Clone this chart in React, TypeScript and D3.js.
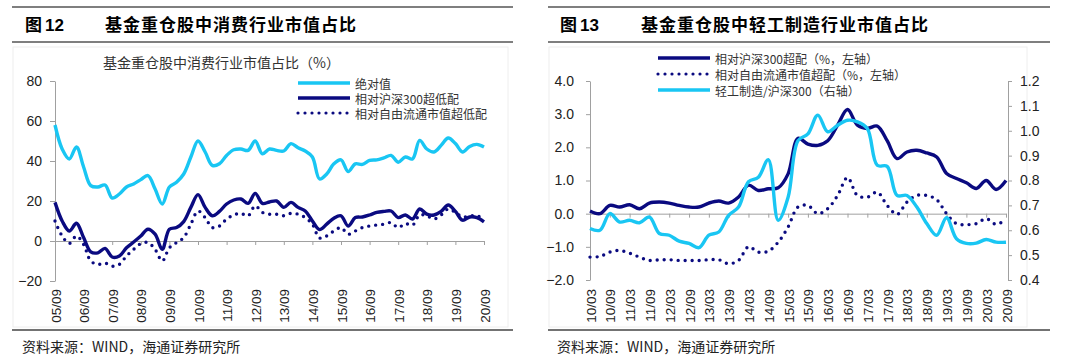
import React, { useEffect, useRef } from 'react';
import * as d3 from 'd3';

// 图12: quarterly, 05/09 .. 20/09
const leftTicks = ['05/09', '06/09', '07/09', '08/09', '09/09', '10/09', '11/09', '12/09', '13/09', '14/09', '15/09', '16/09', '17/09', '18/09', '19/09', '20/09'];
const absValue = [58, 46, 41, 47, 37, 27.7, 27, 28, 21.5, 23.5, 27, 28.5, 30.7, 32.7, 26, 18.5, 27, 29.4, 33.5, 42, 50, 44.5, 37.8, 38.6, 42.8, 45.6, 46, 45.3, 50, 43.6, 46, 45.3, 45, 48.7, 46.6, 45, 42, 31, 33.5, 38.6, 40.6, 34.7, 38.6, 38.3, 40.3, 40.6, 41.6, 42.8, 39.4, 42, 41, 50.3, 46, 44.5, 47.8, 51.5, 48.7, 44.5, 47.3, 48.3, 47];
const vsHs300 = [19.3, 10, 5, 8.9, 1.7, -5.4, -5.9, -3.7, -8, -7.5, -3.4, -0.5, 2.5, 5.9, 3.4, -4.2, 5.9, 6.7, 9.7, 16.8, 23.2, 16.8, 12.6, 14.8, 18.5, 20.5, 21, 18.8, 23.8, 18.8, 19.5, 20, 16.8, 19.3, 16.8, 15, 10, 5.7, 8.4, 11.4, 12.6, 7.5, 11.7, 12, 13, 14.3, 14.8, 15, 11.7, 13, 11, 16, 13.4, 13, 14.8, 18, 14.8, 10.4, 12, 11.7, 9.6];
const vsFree = [10, 2.5, -1.2, 2.5, -1.7, -10, -11.7, -11, -12.6, -11.7, -7.5, -4.2, -1.3, -0.8, -4.2, -10, -3.4, -0.8, 1.7, 8.4, 15, 11.7, 6.7, 7.5, 11, 13, 13.8, 12.6, 17.6, 14.3, 13.4, 13.4, 12.6, 13.8, 13.4, 11.7, 8.4, 1.5, 2.5, 5, 6.7, 3.4, 5, 6.7, 7.5, 8, 8.4, 9.2, 6.7, 8.7, 7.9, 13, 12.6, 11, 13, 16, 14.3, 12, 12.6, 12.6, 11];
const leftLegend = ['绝对值', '相对沪深300超低配', '相对自由流通市值超低配'];

// 图13: quarterly, 10/03 .. 20/09
const rightTicks = ['10/03', '10/09', '11/03', '11/09', '12/03', '12/09', '13/03', '13/09', '14/03', '14/09', '15/03', '15/09', '16/03', '16/09', '17/03', '17/09', '18/03', '18/09', '19/03', '19/09', '20/03', '20/09'];
const lightVsHs300 = [0.08, 0.0, 0.25, 0.2, 0.27, 0.15, 0.32, 0.35, 0.32, 0.25, 0.2, 0.2, 0.32, 0.38, 0.32, 0.5, 0.86, 0.7, 0.75, 0.78, 1.2, 2.27, 2.1, 2.06, 2.2, 2.67, 3.14, 2.67, 2.57, 2.64, 2.2, 1.66, 1.86, 1.91, 1.83, 1.71, 1.21, 1.06, 0.93, 0.76, 1.0, 0.73, 1.0];
const lightVsFree = [-1.31, -1.29, -1.16, -1.11, -1.19, -1.31, -1.41, -1.39, -1.39, -1.41, -1.41, -1.41, -1.39, -1.39, -1.51, -1.41, -1.0, -1.16, -1.13, -0.86, -0.4, 0.2, 0.25, 0.0, 0.15, 0.55, 1.09, 0.55, 0.5, 0.65, 0.25, -0.02, 0.35, 0.55, 0.55, 0.42, 0.0, -0.3, -0.33, -0.3, -0.15, -0.32, -0.18];
const lightRatio = [0.607, 0.6, 0.667, 0.633, 0.64, 0.63, 0.653, 0.587, 0.58, 0.556, 0.547, 0.53, 0.58, 0.593, 0.66, 0.693, 0.795, 0.813, 0.884, 0.64, 0.733, 0.96, 0.987, 1.063, 0.996, 1.022, 1.042, 1.036, 1.009, 0.861, 0.857, 0.74, 0.74, 0.693, 0.627, 0.58, 0.65, 0.566, 0.547, 0.548, 0.563, 0.552, 0.552];
const rightLegend = ['相对沪深300超配（%，左轴）', '相对自由流通市值超配（%，左轴）', '轻工制造/沪深300（右轴）'];

const CYAN = '#19c6f3';
const NAVY = '#0a0a80';
const CJK = '"Noto Sans CJK SC", sans-serif';
const NUM = '"Liberation Sans", Arial, sans-serif';

const App = () => {
  const svgRef: any = useRef();

  useEffect(() => {
    const svg = d3.select(svgRef.current);
    svg.selectAll('*').remove();

    const header = (x0: number, x1: number, tx: number, num: string, title: string, sx: number) => {
      svg.append('line').attr('x1', x0).attr('x2', x1).attr('y1', 7).attr('y2', 7).attr('stroke', '#7f7f7f').attr('stroke-width', 2);
      svg.append('line').attr('x1', x0).attr('x2', x1).attr('y1', 42).attr('y2', 42).attr('stroke', '#7f7f7f').attr('stroke-width', 2);
      svg.append('line').attr('x1', x0).attr('x2', x1).attr('y1', 330).attr('y2', 330).attr('stroke', '#444').attr('stroke-width', 1.5);
      svg.append('text').attr('x', tx).attr('y', 31).attr('font-family', CJK).attr('font-weight', 700).attr('font-size', 17).text('图 ');
      svg.append('text').attr('x', tx + 20).attr('y', 31).attr('font-family', NUM).attr('font-weight', 700).attr('font-size', 17).text(num);
      svg.append('text').attr('x', sx).attr('y', 31).attr('font-family', CJK).attr('font-weight', 700).attr('font-size', 17).attr('letter-spacing', 1).text(title);
      svg.append('text').attr('x', tx - 3).attr('y', 352).attr('font-family', CJK).attr('font-size', 14).attr('fill', '#222').text('资料来源：WIND，海通证券研究所');
    };

    header(12, 513, 25, '12', '基金重仓股中消费行业市值占比', 105);
    header(548, 1050, 560, '13', '基金重仓股中轻工制造行业市值占比', 641);

    svg.append('rect').attr('x', 13).attr('y', 47).attr('width', 495).attr('height', 280).attr('fill', 'none').attr('stroke', '#eeeeee');
    svg.append('rect').attr('x', 549).attr('y', 47).attr('width', 478).attr('height', 280).attr('fill', 'none').attr('stroke', '#eeeeee');

    const styleAxis = (g: any) => {
      g.select('.domain').attr('stroke', '#a0a0a0');
      g.selectAll('.tick line').attr('stroke', '#a0a0a0');
      g.selectAll('.tick text').attr('font-family', NUM).attr('font-size', 14).attr('fill', '#222');
    };

    const drawLine = (xs: any, ys: any, vals: number[], color: string, dotted: boolean) => {
      const line = d3.line<number>()
        .x((_, i) => xs(i))
        .y(d => ys(d))
        .curve(d3.curveCatmullRom.alpha(0.5));
      const p = svg.append('path').attr('d', line(vals)).attr('fill', 'none').attr('stroke', color);
      if (dotted) {
        p.attr('stroke-width', 3.4).attr('stroke-linecap', 'round').attr('stroke-dasharray', '0 7');
      } else {
        p.attr('stroke-width', 3.4).attr('stroke-linejoin', 'round');
      }
    };

    const xAxis = (xs: any, labels: string[], step: number, y0: number) => {
      const idx = labels.map((_, i) => i * step);
      const g = svg.append('g').attr('transform', `translate(0,${y0})`)
        .call(d3.axisBottom(xs).tickValues(idx).tickSize(4).tickSizeOuter(0).tickFormat(() => ''));
      styleAxis(g);
      labels.forEach((lab, i) => {
        svg.append('text')
          .attr('transform', `translate(${xs(idx[i]) + 1},289) rotate(-90)`)
          .attr('text-anchor', 'end').attr('dominant-baseline', 'central')
          .attr('font-family', NUM).attr('font-size', 13.5).attr('fill', '#222')
          .text(lab);
      });
    };

    const legend = (x0: number, x1: number, ys: number[], names: string[], colors: string[], dotted: boolean[], fs: number) => {
      names.forEach((n, i) => {
        const l = svg.append('line').attr('x1', x0).attr('x2', x1).attr('y1', ys[i]).attr('y2', ys[i]).attr('stroke', colors[i]);
        if (dotted[i]) l.attr('stroke-width', 3.2).attr('stroke-linecap', 'round').attr('stroke-dasharray', '0 7');
        else l.attr('stroke-width', 3.4);
        svg.append('text').attr('x', x1 + 5).attr('y', ys[i]).attr('dominant-baseline', 'central')
          .attr('font-family', CJK).attr('font-size', fs).attr('fill', '#333').text(n);
      });
    };

    // ---- left chart ----
    const xL = d3.scaleLinear().domain([0, absValue.length - 1]).range([55, 484]);
    const yL = d3.scaleLinear().domain([-20, 80]).range([281, 81]);
    const gy = svg.append('g').attr('transform', 'translate(55,0)')
      .call(d3.axisLeft(yL).tickValues([-20, 0, 20, 40, 60, 80]).tickSize(5).tickSizeOuter(0).tickPadding(8));
    styleAxis(gy);
    xAxis(xL, leftTicks, 4, yL(0));

    svg.append('text').attr('x', 103).attr('y', 62).attr('dominant-baseline', 'central')
      .attr('font-family', CJK).attr('font-size', 14).attr('fill', '#333').text('基金重仓股中消费行业市值占比（%）');

    drawLine(xL, yL, absValue, CYAN, false);
    drawLine(xL, yL, vsHs300, NAVY, false);
    drawLine(xL, yL, vsFree, NAVY, true);
    legend(298, 350, [83, 98, 113], leftLegend, [CYAN, NAVY, NAVY], [false, false, true], 12);

    // ---- right chart ----
    const xR = d3.scaleLinear().domain([0, lightRatio.length - 1]).range([590, 1006]);
    const yR1 = d3.scaleLinear().domain([-2, 4]).range([280, 81]);
    const yR2 = d3.scaleLinear().domain([0.4, 1.2]).range([280, 81]);
    const gy1 = svg.append('g').attr('transform', 'translate(590,0)')
      .call(d3.axisLeft(yR1).tickValues([-2, -1, 0, 1, 2, 3, 4]).tickFormat(d3.format('.1f')).tickSize(4).tickSizeOuter(0).tickPadding(12));
    styleAxis(gy1);
    const gy2 = svg.append('g').attr('transform', 'translate(1008,0)')
      .call(d3.axisRight(yR2).tickValues([0.4, 0.5, 0.6, 0.7, 0.8, 0.9, 1.0, 1.1, 1.2]).tickFormat(d3.format('.1f')).tickSize(4).tickSizeOuter(0).tickPadding(8));
    styleAxis(gy2);
    xAxis(xR, rightTicks, 2, yR1(0));

    drawLine(xR, yR1, lightVsHs300, NAVY, false);
    drawLine(xR, yR1, lightVsFree, NAVY, true);
    drawLine(xR, yR2, lightRatio, CYAN, false);
    legend(658, 710, [58, 74, 90], rightLegend, [NAVY, NAVY, CYAN], [false, true, false], 12);
  }, []);

  return (
    <div style={{ position: 'absolute', left: 0, top: 0, width: 1080, height: 358, background: '#fff' }}>
      <svg ref={svgRef} width={1080} height={358}></svg>
    </div>
  );
};

export default App;
